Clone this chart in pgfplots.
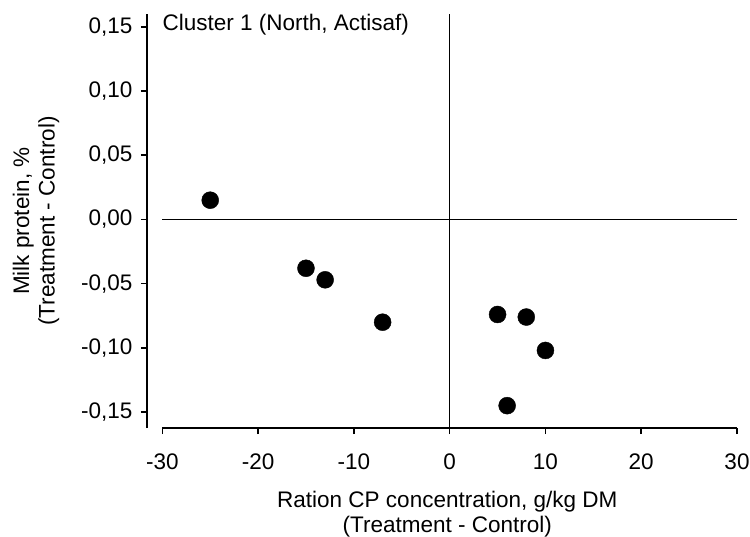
\documentclass[border=0pt]{standalone}
\usepackage{fontspec}
\setmainfont{Liberation Sans}
\usepackage{pgfplots}
\pgfplotsset{compat=1.18}
\begin{document}
\begin{tikzpicture}
\begin{axis}[
  scale only axis, width=590bp, height=414bp,
  xmin=-31.6, xmax=30, ymin=-0.1624, ymax=0.16,
  axis lines=left, axis line style={-, line width=1.6bp},
  x axis line style={draw=none},
  xtick={-30,-20,-10,0,10,20,30},
  ytick={-0.15,-0.10,-0.05,0,0.05,0.10,0.15},
  tick align=outside, major tick length=6bp,
  tick style={line width=1.6bp, black},
  /pgf/number format/assume math mode=true,
  tick label style={font=\fontsize{22.5bp}{25.5bp}\selectfont},
  label style={font=\fontsize{22.5bp}{25.5bp}\selectfont},
  y tick label style={/pgf/number format/fixed, /pgf/number format/fixed zerofill, /pgf/number format/precision=2, /pgf/number format/use comma, xshift=-5bp},
  x tick label style={/pgf/number format/fixed, /pgf/number format/precision=0, yshift=-16bp},
  xlabel={Ration CP concentration, g/kg DM\\(Treatment - Control)},
  xlabel style={align=center, at={(axis description cs:0.509,0)}, anchor=north, yshift=-62.5bp, inner sep=0pt},
  ylabel={Milk protein, \%\\(Treatment - Control)},
  ylabel style={align=center, at={(axis description cs:-0.188,0.5)}, anchor=center, inner sep=0pt},
  clip=false,
]
\draw[line width=1.6bp] (axis cs:-30,-0.1624) -- (axis cs:30,-0.1624);
\draw[line width=1.6bp] (axis cs:0,-0.1624) -- (axis cs:0,0.16);
\draw[line width=1.6bp] (axis cs:-30,0) -- (axis cs:30,0);
\node[anchor=west, inner sep=0pt, font=\fontsize{22.5bp}{25.5bp}\selectfont] at (axis cs:-30,0.1515) {Cluster 1 (North, Actisaf)};
\addplot[only marks, mark=*, mark size=8.5bp, black] coordinates {
  (-25,0.015) (-15,-0.038) (-13,-0.047) (-7,-0.080)
  (5,-0.074) (8,-0.076) (10,-0.102) (6,-0.145)
};
\end{axis}
\pgfresetboundingbox
\path (-147bp,-109bp) rectangle (603bp,428bp);
\end{tikzpicture}
\end{document}
